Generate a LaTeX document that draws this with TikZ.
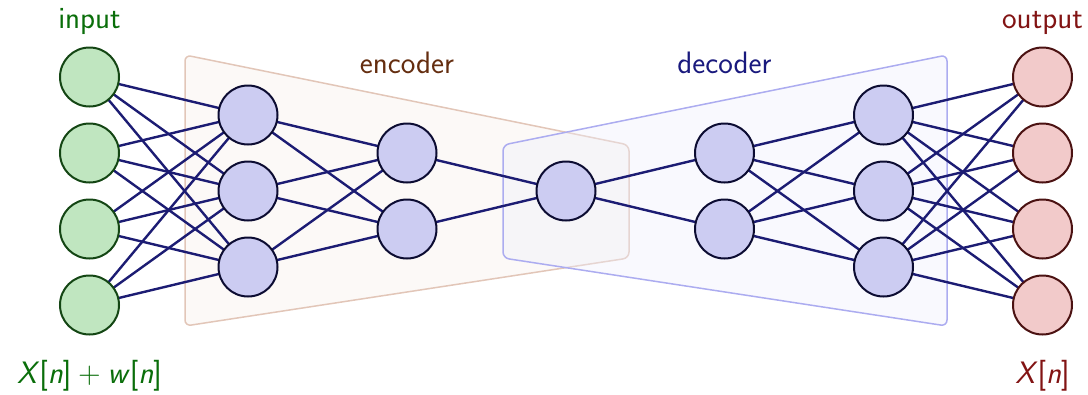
\documentclass[tikz,border=0pt]{standalone}
\definecolor{inFill}{RGB}{192,230,192}
\definecolor{inLine}{RGB}{20,70,20}
\definecolor{inText}{RGB}{10,110,10}
\definecolor{outFill}{RGB}{242,202,202}
\definecolor{outLine}{RGB}{75,18,18}
\definecolor{outText}{RGB}{130,20,20}
\definecolor{hidFill}{RGB}{204,204,242}
\definecolor{hidLine}{RGB}{12,12,50}
\definecolor{wire}{RGB}{28,28,115}
\definecolor{encFill}{RGB}{246,238,233}
\definecolor{encLine}{RGB}{226,198,184}
\definecolor{encText}{RGB}{100,45,15}
\definecolor{decFill}{RGB}{238,238,252}
\definecolor{decLine}{RGB}{172,172,240}
\definecolor{decText}{RGB}{25,25,125}
\pgfdeclarelayer{panels}
\pgfdeclarelayer{wires}
\pgfsetlayers{panels,wires,main}
\tikzset{
  neuron/.style={circle, minimum size=59pt, inner sep=0pt, line width=2pt},
  innode/.style={neuron, draw=inLine, fill=inFill},
  hidnode/.style={neuron, draw=hidLine, fill=hidFill},
  outnode/.style={neuron, draw=outLine, fill=outFill},
  wirestyle/.style={draw=wire, line width=2.4pt},
  panel/.style={rounded corners=6pt, line width=1.5pt, fill opacity=0.38},
}
\newcommand\plusgap{\hspace{0.22em}+\hspace{0.22em}}
\begin{document}
\begin{tikzpicture}[x=1pt, y=-1pt, font=\fontsize{31}{37}\selectfont\sffamily]
\useasboundingbox (0,0) rectangle (1088,394);

% encoder and decoder panels
\begin{pgfonlayer}{panels}
\draw[panel, draw=encLine, fill=encFill]
  (185,55) -- (629,145) -- (629,258) -- (185,326) -- cycle;
\draw[panel, draw=decLine, fill=decFill]
  (947,55) -- (947,326) -- (503,258) -- (503,145) -- cycle;
\end{pgfonlayer}

% neurons
\foreach \y [count=\k] in {77,153,229,305} {
  \node[innode]  (i\k) at (89.5,\y) {};
  \node[outnode] (o\k) at (1042.5,\y) {};
}
\foreach \y [count=\k] in {115,191,267} {
  \node[hidnode] (a\k) at (248,\y) {};
  \node[hidnode] (e\k) at (883.5,\y) {};
}
\foreach \y [count=\k] in {153,229} {
  \node[hidnode] (b\k) at (407,\y) {};
  \node[hidnode] (d\k) at (724.5,\y) {};
}
\node[hidnode] (c1) at (566,191) {};

% full connections between consecutive layers
\begin{pgfonlayer}{wires}
\foreach \s in {1,...,4} \foreach \t in {1,...,3} {
  \draw[wirestyle] (i\s.center) -- (a\t.center);
  \draw[wirestyle] (e\t.center) -- (o\s.center);
}
\foreach \s in {1,...,3} \foreach \t in {1,2} {
  \draw[wirestyle] (a\s.center) -- (b\t.center);
  \draw[wirestyle] (d\t.center) -- (e\s.center);
}
\foreach \s in {1,2} {
  \draw[wirestyle] (b\s.center) -- (c1.center);
  \draw[wirestyle] (c1.center) -- (d\s.center);
}
\end{pgfonlayer}

% labels
\node[anchor=base, text=inText]  (lin)  at (89.5,28)  {input};
\node[anchor=base, text=outText] (lout) at (1042.5,28) {output};
\node[anchor=base, text=encText] (lenc) at (407,73)  {encoder};
\node[anchor=base, text=decText] (ldec) at (724.5,73) {decoder};
\node[anchor=base, text=inText]  (lx)   at (89.5,383)
  {\textit{X}[\textit{n}]\plusgap\textit{w}[\textit{n}]};
\node[anchor=base, text=outText] (ly)   at (1042.5,383)
  {\textit{X}[\textit{n}]};
\end{tikzpicture}
\end{document}
